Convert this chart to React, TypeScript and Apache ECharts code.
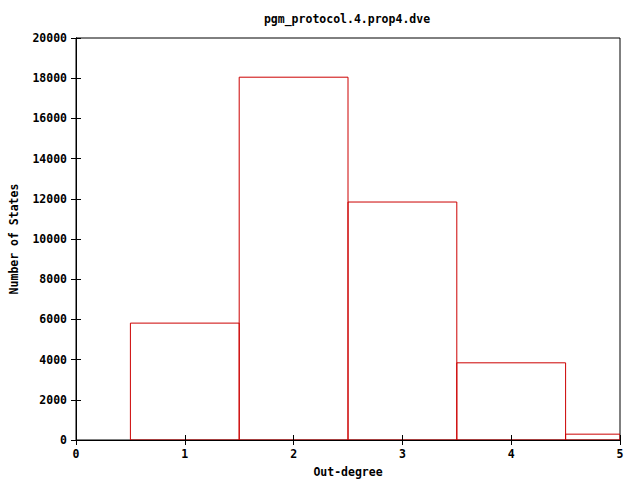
import React, { useEffect, useRef } from "react";
import * as echarts from "echarts";

const chartTitle = "pgm_protocol.4.prop4.dve";
const xName = "Out-degree";
const yName = "Number of States";
const outDegrees = [1, 2, 3, 4, 5];
const stateCounts = [5815, 18050, 11840, 3840, 290];

const FONT = "'DejaVu Sans Mono', monospace";

export default function App() {
  const ref = useRef<HTMLDivElement>(null);
  useEffect(() => {
    if (!ref.current) return;
    const chart = echarts.init(ref.current, null, { renderer: "svg" });
    const data = outDegrees.map((d, i) => [d, stateCounts[i]]);
    const labelStyle = { color: "#000", fontFamily: FONT, fontWeight: "bold" as const, fontSize: 11.5, formatter: (v: number) => String(v) };
    chart.setOption({
      animation: false,
      backgroundColor: "#fff",
      grid: { left: 76, right: 20, top: 38, bottom: 40, show: true, borderColor: "#000", borderWidth: 1, backgroundColor: "transparent" },
      graphic: [
        { type: "text", x: 347, y: 19, style: { text: chartTitle, align: "center", verticalAlign: "middle", fill: "#000", font: `bold 11.5px ${FONT}` } },
        { type: "text", x: 14, y: 239, rotation: Math.PI / 2, style: { text: yName, align: "center", verticalAlign: "middle", fill: "#000", font: `bold 11.5px ${FONT}` } },
        { type: "text", x: 348, y: 472, style: { text: xName, align: "center", verticalAlign: "middle", fill: "#000", font: `bold 11.5px ${FONT}` } },
      ],
      xAxis: [
        {
          type: "value", min: 0, max: 5, interval: 1, position: "bottom", z: 5,
          axisLine: { show: true, lineStyle: { color: "#000", width: 1 } },
          axisTick: { show: true, inside: true, length: 5, lineStyle: { color: "#000" } },
          axisLabel: { ...labelStyle, margin: 8 },
          splitLine: { show: false },
        },
        {
          type: "value", min: 0, max: 5, interval: 1, position: "top", z: 5,
          axisLine: { show: true, lineStyle: { color: "#000", width: 1 } },
          axisTick: { show: true, inside: true, length: 5, lineStyle: { color: "#000" } },
          axisLabel: { show: false },
          splitLine: { show: false },
        },
      ],
      yAxis: [
        {
          type: "value", min: 0, max: 20000, interval: 2000, position: "left", z: 5,
          axisLine: { show: true, lineStyle: { color: "#000", width: 1 } },
          axisTick: { show: true, inside: true, length: 5, lineStyle: { color: "#000" } },
          axisLabel: { ...labelStyle, margin: 9 },
          splitLine: { show: false },
        },
        {
          type: "value", min: 0, max: 20000, interval: 2000, position: "right", z: 5,
          axisLine: { show: true, lineStyle: { color: "#000", width: 1 } },
          axisTick: { show: true, inside: true, length: 5, lineStyle: { color: "#000" } },
          axisLabel: { show: false },
          splitLine: { show: false },
        },
      ],
      series: [
        {
          type: "custom",
          xAxisIndex: 0,
          yAxisIndex: 0,
          z: 1,
          data,
          clip: true,
          renderItem: (params: any, api: any) => {
            const x = api.value(0);
            const v = api.value(1);
            const p1 = api.coord([x - 0.5, v]);
            const p2 = api.coord([x + 0.5, 0]);
            const rect = echarts.graphic.clipRectByRect(
              { x: p1[0], y: p1[1], width: p2[0] - p1[0], height: p2[1] - p1[1] },
              { x: params.coordSys.x, y: params.coordSys.y, width: params.coordSys.width, height: params.coordSys.height }
            );
            if (!rect) return null;
            return {
              type: "rect",
              shape: rect,
              style: { fill: "none", stroke: "#cc0000", lineWidth: 1 },
            };
          },
        },
      ],
    });
    return () => chart.dispose();
  }, []);
  return <div ref={ref} style={{ width: 640, height: 480, position: "absolute", left: 0, top: 0 }} />;
}
